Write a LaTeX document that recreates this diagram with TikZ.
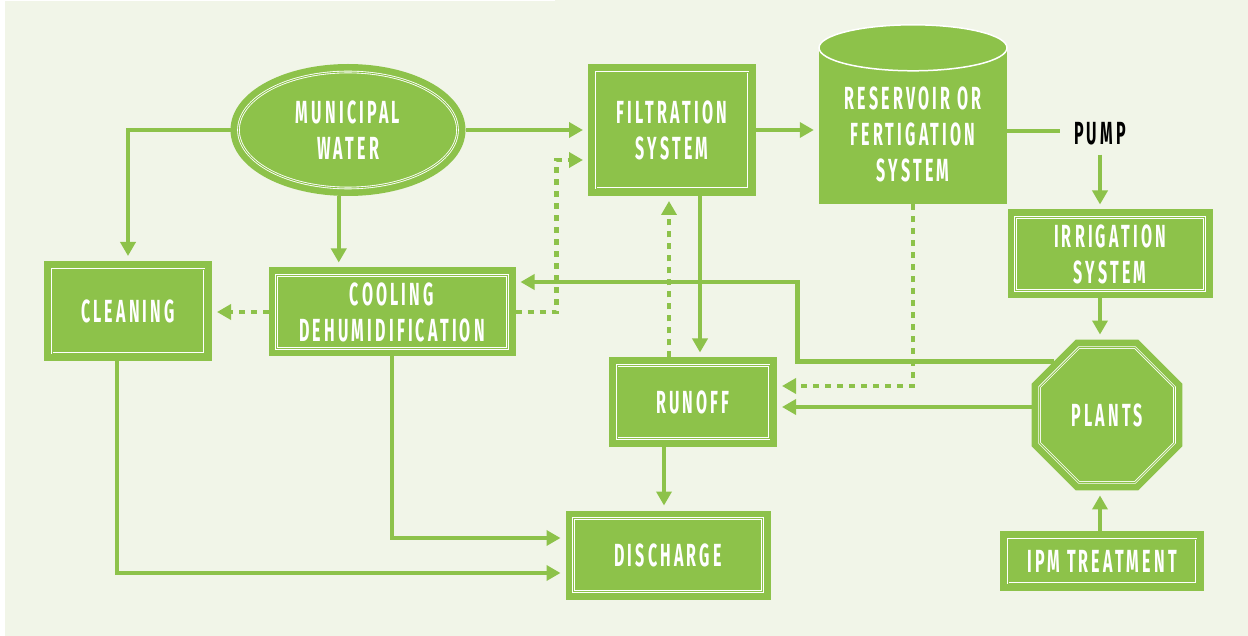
\documentclass[tikz,border=0pt]{standalone}
\usepackage{fontspec}
\setmainfont{Fira Sans}[FakeStretch=0.5, LetterSpace=10]
\usetikzlibrary{shapes.geometric, arrows.meta, positioning}
\definecolor{leaf}{HTML}{8DC24A}
\definecolor{paper}{HTML}{F1F5E8}

\begin{document}
\begin{tikzpicture}[x=1pt, y=-1pt, >={Triangle[width=15pt,length=14pt]},
  every node/.style={font=\fontsize{32}{36}\selectfont\bfseries, text=white, align=center},
  box/.style={rectangle, fill=leaf, draw=leaf, line width=16pt, inner sep=0pt,
    postaction={draw=white, line width=2.6pt}, postaction={draw=leaf, line width=0.9pt}},
  flow/.style={->, draw=leaf, line width=4.5pt, shorten >=5pt},
  dflow/.style={flow, dash pattern=on 6pt off 6pt}]
\useasboundingbox (0,0) rectangle (1248,636);
\fill[white] (0,0) rectangle (1248,636);
\fill[paper] (5,0) rectangle (1248,636);
\fill[white] (5,0) rectangle (555,1.5);

\node[box, ellipse, minimum width=219pt, minimum height=116pt] (mun) at (348,130) {MUNICIPAL\\WATER};
\foreach \nm/\x/\y/\w/\h/\txt in {fil/672/130/152/116/{FILTRATION\\SYSTEM},
    cle/128/311/152/84/CLEANING, coo/392/312/231/73/{COOLING\\DEHUMIDIFICATION},
    run/693/402/152/73/RUNOFF, dis/668/555/189/73/DISCHARGE,
    irr/1110/254/189/73/{IRRIGATION\\SYSTEM}, ipm/1102/561/188/44/{IPM TREATMENT}}
{
    \node[box, minimum width=\w pt, minimum height=\h pt] (\nm) at (\x,\y) {\txt};
}
\node[box, regular polygon, regular polygon sides=8, minimum size=146pt] (pla) at (1107,415) {PLANTS};

\node[fill=leaf, minimum width=188pt, minimum height=140pt, inner sep=0pt] (res) at (913,134) {RESERVOIR OR\\FERTIGATION\\SYSTEM};
\fill[leaf] (res.north west) rectangle ([yshift=16pt]res.north east);
\draw[white, fill=leaf, line width=1.5pt] ([yshift=16pt]res.north) ellipse [x radius=94, y radius=23];
\node[text=black, inner sep=0pt] (pump) at (1100,134) {PUMP};

\draw[flow] (mun.east) -- (fil.west);
\draw[flow] (mun.west) -| (cle.north);
\draw[flow] (mun.-98) -- (mun.-98 |- coo.north);
\draw[flow] (fil.east) -- (fil.east -| res.west);
\draw[leaf, line width=4.5pt, shorten >=14pt] ([yshift=3pt]pump.west -| res.east) -- ([yshift=3pt]pump.west);
\draw[flow, shorten <=9pt] (pump.south) -- (pump.south |- irr.north);
\draw[flow] (irr.south -| pump) -- (pla.north -| pump);
\draw[flow] (ipm.north -| pump) -- (pla.south -| pump);
\draw[flow] ([xshift=28pt]fil.south) -- ([xshift=28pt]fil.south |- run.north);
\draw[flow] (pla.135) -- ++(-256,0) |- ([yshift=30pt]coo.east);
\draw[flow] ([yshift=8pt]pla.west) -- ([yshift=8pt]pla.west -| run.east);
\draw[flow] ([xshift=-29pt]run.south) -- ([xshift=-29pt]run.south |- dis.north);
\draw[flow] (coo.south) |- ([yshift=17pt]dis.west);
\draw[flow] ([xshift=-11pt]cle.south) |- ([yshift=-18pt]dis.west);
\draw[dflow] ([xshift=-24pt]run.north) -- ([xshift=-24pt]run.north |- fil.south);
\draw[dflow] (coo.east) -- ++(41,0) |- ([yshift=-30pt]fil.west);
\draw[dflow] (coo.west) -- (coo.west -| cle.east);
\draw[dflow] (res.south) |- ([yshift=16pt]run.east);
\end{tikzpicture}
\end{document}
